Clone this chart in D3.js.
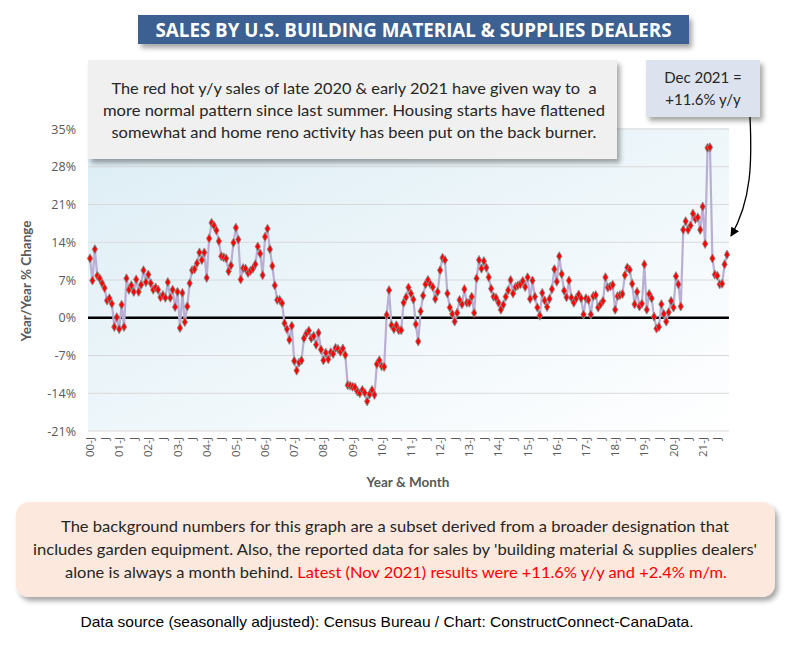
<!DOCTYPE html>
<html><head><meta charset="utf-8">
<script src="https://cdn.jsdelivr.net/npm/d3@7"></script>
<style>
body{margin:0;background:#fff;}
svg{display:block;font-family:"Lato","Open Sans",sans-serif;}
</style></head>
<body><svg id="c" width="795" height="648"></svg>
<script>
const startYear = 2000;
const yoyValues = [
11.0,6.9,12.7,7.8,7.3,6.4,5.5,3.2,3.6,2.6,-1.7,0.1,
-2.1,2.4,-1.7,7.3,5.2,6.0,4.8,7.1,4.8,6.1,8.8,6.6,
8.0,6.4,5.2,5.6,5.2,3.8,4.2,3.7,6.6,3.7,5.2,2.0,
4.8,-1.9,4.6,-0.8,2.1,6.4,8.8,9.0,10.1,12.1,10.7,12.1,
7.4,14.7,17.6,17.1,16.2,14.2,11.4,11.2,11.0,8.6,9.7,13.9,
16.7,14.5,7.1,9.2,9.1,8.3,8.7,9.1,9.9,13.2,11.9,7.9,
15.0,16.5,12.7,9.6,6.0,3.3,3.3,2.7,-1.0,-2.1,-4.1,-1.5,
-8.0,-9.8,-8.3,-7.9,-3.8,-2.9,-2.4,-3.8,-3.4,-5.0,-2.8,-5.9,
-7.9,-6.5,-7.7,-6.4,-6.7,-5.6,-5.8,-6.3,-5.7,-6.9,-12.5,-12.6,
-12.8,-12.9,-13.7,-14.0,-13.4,-13.9,-15.5,-14.2,-13.4,-14.3,-8.6,-7.9,
-9.0,-9.1,0.5,5.1,-1.4,-2.1,-1.4,-2.3,-2.3,2.8,3.8,5.6,
4.5,3.4,-1.2,-4.4,1.2,4.1,6.2,7.0,6.2,5.7,3.5,4.8,
8.8,11.1,10.7,4.5,1.9,0.7,-0.7,0.9,3.3,2.5,5.3,2.8,
2.8,3.9,0.9,7.3,10.7,9.1,10.5,9.3,7.5,5.4,3.9,3.7,
2.8,1.5,2.4,3.9,5.1,7.0,4.5,5.7,6.0,6.2,6.8,5.7,
7.5,3.5,6.9,3.9,1.9,0.4,4.6,3.2,2.0,3.5,5.3,9.0,
6.7,11.4,8.1,5.0,3.8,6.9,3.7,2.8,3.6,4.3,3.6,0.6,
3.6,3.3,0.6,4.0,4.2,1.9,2.5,3.1,7.5,5.6,5.8,6.1,
1.5,4.0,4.2,4.4,7.9,9.3,8.9,6.3,2.5,4.8,2.1,2.6,
9.9,1.5,4.4,3.6,0.2,-2.0,-1.7,2.5,0.7,-0.7,1.0,3.1,
1.9,7.7,6.2,2.1,16.3,17.9,16.3,17.1,19.3,18.3,18.6,16.3,
20.6,13.7,31.5,31.6,11.0,8.0,7.8,6.2,6.3,9.9,11.7
];
const yTicks = [-21,-14,-7,0,7,14,21,28,35];
const titleText = "SALES BY U.S. BUILDING MATERIAL & SUPPLIES DEALERS";
const noteTop = ["The red hot y/y sales of late 2020 & early 2021 have given way to \u00a0a",
  "more normal pattern since last summer. Housing starts have flattened",
  "somewhat and home reno activity has been put on the back burner."];
const calloutLines = ["Dec 2021 =", "+11.6% y/y"];
const noteBottom = ["The background numbers for this graph are a subset derived from a broader designation that",
  "includes garden equipment. Also, the reported data for sales by 'building material & supplies dealers'"];
const noteBottomLast = ["alone is always a month behind. ", "Latest (Nov 2021) results were +11.6% y/y and +2.4% m/m."];
const sourceText = "Data source (seasonally adjusted): Census Bureau / Chart: ConstructConnect-CanaData.";

const months = yoyValues.map((v,i)=>i);
const monthLabel = i => (i%12===0) ? String((startYear + i/12)%100).padStart(2,"0")+"-J" : (i%6===0 ? "J" : "");

const svg = d3.select("#c");
const defs = svg.append("defs");
const f = defs.append("filter").attr("id","sh").attr("x","-10%").attr("y","-10%").attr("width","130%").attr("height","150%");
f.append("feDropShadow").attr("dx",3).attr("dy",4).attr("stdDeviation",2.5).attr("flood-color","#000").attr("flood-opacity",0.35);
const g = defs.append("linearGradient").attr("id","bg").attr("x1","0").attr("y1","0").attr("x2","1").attr("y2","1");
g.append("stop").attr("offset","0").attr("stop-color","#dcedf5");
g.append("stop").attr("offset","1").attr("stop-color","#ffffff");
defs.append("marker").attr("id","arr").attr("viewBox","0 0 10 10").attr("refX",9).attr("refY",5)
  .attr("markerWidth",7).attr("markerHeight",7).attr("orient","auto")
  .append("path").attr("d","M0,0 L10,5 L0,10 z").attr("fill","#000");

// plot
const L=88, R=729, T=128, B=431;
const x = d3.scalePoint().domain(months).range([90, 727]);
const y = d3.scaleLinear().domain([-21,35]).range([B, 129]);

svg.append("rect").attr("x",L).attr("y",T).attr("width",R-L).attr("height",B-T).attr("fill","url(#bg)");
svg.append("g").selectAll("line").data(yTicks).join("line")
  .attr("x1",L).attr("x2",R).attr("y1",d=>y(d)).attr("y2",d=>y(d))
  .attr("stroke","#d9d9d9").attr("stroke-width",1.2);
svg.append("g").selectAll("text").data(yTicks).join("text")
  .attr("x",76).attr("y",d=>y(d)+4.5).attr("text-anchor","end")
  .attr("font-family","Open Sans, sans-serif").attr("font-size",12.5).attr("fill","#595959")
  .text(d=>d+"%");
svg.append("line").attr("x1",L).attr("x2",R).attr("y1",y(0)).attr("y2",y(0)).attr("stroke","#000").attr("stroke-width",2.5);

// x labels
svg.append("g").selectAll("text").data(months.filter(i=>i%6===0)).join("text")
  .attr("transform",d=>`translate(${x(d)+4},437) rotate(-90)`)
  .attr("text-anchor","end").attr("font-family","Open Sans, sans-serif").attr("font-size",11.5).attr("fill","#595959")
  .text(d=>monthLabel(d));

// series
svg.append("path").datum(yoyValues)
  .attr("d", d3.line().x((d,i)=>x(i)).y(d=>y(d)))
  .attr("fill","none").attr("stroke","#b9aed4").attr("stroke-width",2.2);
const sym = d3.symbol().type(d3.symbolDiamond).size(24);
svg.append("g").selectAll("path").data(yoyValues).join("path")
  .attr("transform",(d,i)=>`translate(${x(i)},${y(d)})`)
  .attr("d",sym).attr("fill","#ff0000").attr("stroke","#8c8c8c").attr("stroke-width",0.9);

// axis titles
svg.append("text").attr("x",408).attr("y",487).attr("text-anchor","middle")
  .attr("font-weight","bold").attr("font-size",13.5).attr("fill","#595959").text("Year & Month");
svg.append("text").attr("transform","translate(31,281) rotate(-90)").attr("text-anchor","middle")
  .attr("font-weight","bold").attr("font-size",13.5).attr("fill","#595959").text("Year/Year % Change");

// title
svg.append("rect").attr("x",138).attr("y",15).attr("width",551).attr("height",29).attr("fill","#3a6191").attr("filter","url(#sh)");
svg.append("text").attr("x",413.5).attr("y",36.5).attr("text-anchor","middle").attr("fill","#fff")
  .attr("font-family","Open Sans, sans-serif").attr("font-weight","bold").attr("font-size",19.5)
  .attr("textLength",516).attr("lengthAdjust","spacingAndGlyphs").text(titleText);

// top note
svg.append("rect").attr("x",88).attr("y",60).attr("width",529).attr("height",99).attr("fill","#f0f0f0").attr("filter","url(#sh)");
const topW=[485,502,485];
svg.append("g").selectAll("text").data(noteTop).join("text")
  .attr("x",354).attr("y",(d,i)=>94+i*22).attr("text-anchor","middle").attr("font-size",16).attr("fill","#262626")
  .attr("textLength",(d,i)=>topW[i]).attr("lengthAdjust","spacingAndGlyphs").text(d=>d);

// callout
svg.append("rect").attr("x",646).attr("y",60).attr("width",114).attr("height",57).attr("fill","#dce3ee").attr("filter","url(#sh)");
svg.append("g").selectAll("text").data(calloutLines).join("text")
  .attr("x",703).attr("y",(d,i)=>83+i*22).attr("text-anchor","middle").attr("font-size",15).attr("fill","#262626")
  .text(d=>d);
svg.append("path").attr("d","M750,117 C752,160 752,200 731,236").attr("fill","none").attr("stroke","#000").attr("stroke-width",1.3).attr("marker-end","url(#arr)");

// bottom note
svg.append("rect").attr("x",16).attr("y",502).attr("width",759).attr("height",95).attr("rx",13).attr("fill","#fce8dc").attr("filter","url(#sh)");
const botW=[668,724];
svg.append("g").selectAll("text").data(noteBottom).join("text")
  .attr("x",395).attr("y",(d,i)=>532+i*23).attr("text-anchor","middle").attr("font-size",16).attr("fill","#262626")
  .attr("textLength",(d,i)=>botW[i]).attr("lengthAdjust","spacingAndGlyphs").text(d=>d);
const t3 = svg.append("text").attr("x",396).attr("y",578).attr("text-anchor","middle").attr("font-size",16)
  .attr("textLength",662).attr("lengthAdjust","spacingAndGlyphs");
t3.append("tspan").attr("fill","#262626").text(noteBottomLast[0]);
t3.append("tspan").attr("fill","#ff0000").text(noteBottomLast[1]);

// source
svg.append("text").attr("x",387).attr("y",627).attr("text-anchor","middle")
  .attr("font-family","Liberation Sans, Arial, sans-serif").attr("font-size",15).attr("fill","#000")
  .attr("textLength",613).attr("lengthAdjust","spacingAndGlyphs").text(sourceText);
</script></body></html>
